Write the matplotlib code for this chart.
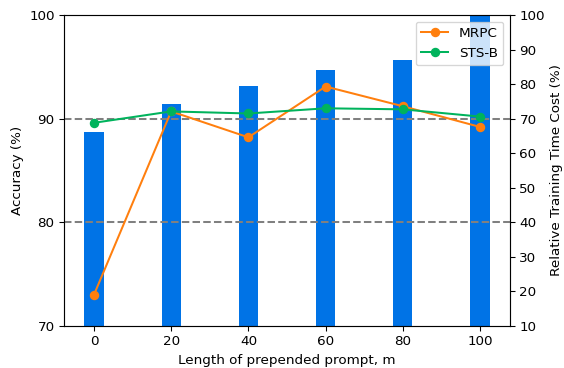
import matplotlib
matplotlib.use("Agg")
import matplotlib.pyplot as plt

# prompt lengths
lengths = [0, 20, 40, 60, 80, 100]
# accuracy (%) on left axis
mrpc_acc = [73.0, 90.7, 88.2, 93.1, 91.2, 89.2]
stsb_acc = [89.6, 90.7, 90.5, 91.0, 90.9, 90.2]
# relative training time cost (%) on right axis
time_cost = [66.0, 74.2, 79.5, 84.1, 87.0, 100.0]

DPI = 97
fig, ax = plt.subplots(figsize=(564 / DPI, 368 / DPI), dpi=DPI)
ax2 = ax.twinx()

ax2.bar(lengths, time_cost, width=5, color='#0073e6')
ax2.set_ylim(10, 100)
ax2.set_yticks(range(10, 101, 10))
ax2.set_ylabel('Relative Training Time Cost (%)')

# keep lines/legend above the bars
ax.set_zorder(ax2.get_zorder() + 1)
ax.patch.set_visible(False)

ax.axhline(90, color='gray', linestyle='--', linewidth=1.5)
ax.axhline(80, color='gray', linestyle='--', linewidth=1.5)
ax.plot(lengths, mrpc_acc, marker='o', color='#ff7f0e', label='MRPC')
ax.plot(lengths, stsb_acc, marker='o', color='#00b35c', label='STS-B')
ax.set_ylim(70, 100)
ax.set_yticks([70, 80, 90, 100])
ax.set_xticks(lengths)
ax.set_xlabel('Length of prepended prompt, m')
ax.set_ylabel('Accuracy (%)')
ax.legend(loc='upper right')

fig.subplots_adjust(left=64/564, right=510/564, top=1 - 15/368, bottom=1 - 326/368)
fig.savefig('out.png', dpi=DPI)
